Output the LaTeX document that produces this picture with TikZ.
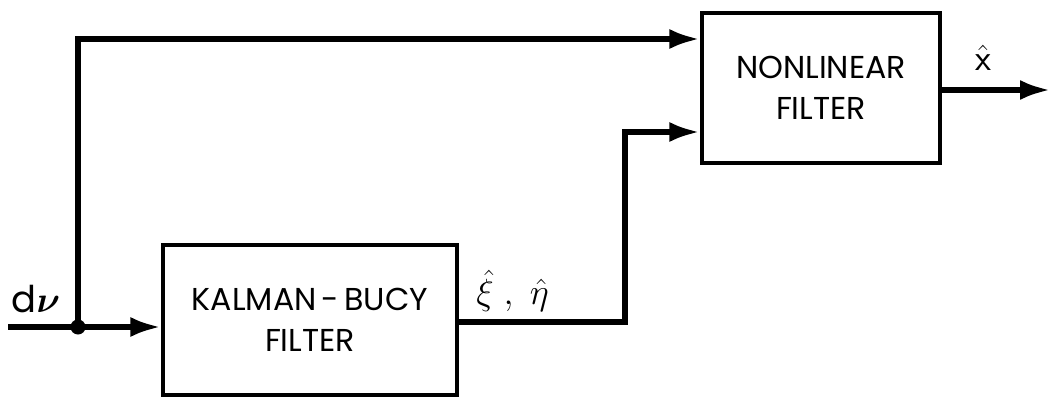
\documentclass[tikz,border=0pt]{standalone}
\usepackage{fontspec}
\setmainfont{Poppins}
\usepackage{amsmath}
\usetikzlibrary{arrows.meta,positioning,calc}

\begin{document}
\begin{tikzpicture}[
    block/.style={
      draw,
      line width=1.8pt,
      minimum width=#1,
      minimum height=3cm,
      align=center,
      font=\fontsize{18}{23}\selectfont
    },
    signal/.style={
      line width=3.4pt,
      -{Latex[length=0.62cm,width=0.4cm]}
    },
    wire/.style={
      line width=3.4pt
    },
    lbl/.style={
      font=\fontsize{21}{24}\selectfont
    }
  ]
  \useasboundingbox (0,0) rectangle (21.04,7.96);

  % Filter blocks
  \node[block=5.88cm] (kb) at (6.2,1.56)   {KALMAN\,-\,BUCY\\FILTER};
  \node[block=4.76cm] (nl) at (16.42,6.2)  {NONLINEAR\\FILTER};

  % Input and branch point
  \coordinate (in)  at (0.16,1.42);
  \coordinate (jn)  at (1.56,1.42);
  \coordinate (top) at (1.56,7.18);
  \coordinate (bend) at (12.5,1.52);
  \coordinate (out) at (21.02,6.16);

  % Connections
  \draw[wire] (in) -- (jn);
  \draw[signal] (jn) -- (jn -| kb.west);
  \draw[signal] (jn) -- (top) -- (top -| nl.west);
  \draw[signal] (kb.east |- bend) -- (bend) -- (bend |- 0,5.32) -- (nl.west |- 0,5.32);
  \draw[signal] (nl.east |- out) -- (out);
  \fill (jn) circle (0.15);

  % Signal labels
  \node[lbl] (dnu) at (0.72,1.98) {d$\boldsymbol{\nu}$};
  \node[lbl] (xieta) at (10.25,2.14) {$\hat{\xi}\;,\;\hat{\eta}$};
  \node[lbl] (xhat) at (19.66,6.8) {$\hat{\mathsf{x}}$};

\end{tikzpicture}
\end{document}
